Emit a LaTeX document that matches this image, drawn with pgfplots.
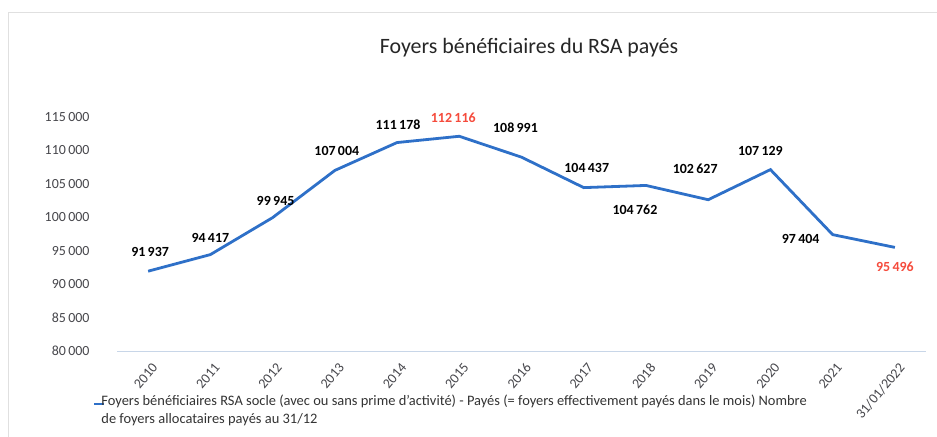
\documentclass[border=0pt]{standalone}
\usepackage{pgfplots}
\pgfplotsset{compat=1.18}
\usepackage{fontspec}
\setmainfont{Carlito}
\definecolor{rsablue}{RGB}{46,112,200}
\definecolor{rsared}{RGB}{245,75,60}
\definecolor{ticktext}{RGB}{70,70,75}
\definecolor{axisline}{RGB}{200,214,232}
\pgfplotstableread{
x y
0 91937
1 94417
2 99945
3 107004
4 111178
5 112116
6 108991
7 104437
8 104762
9 102627
10 107129
11 97404
12 95496
}\rsadata
\pgfplotstableread{
x y dx dy
0 91937 2 19
1 94417 0 17
2 99945 3 17
3 107004 2 19
4 111178 1 18
6 108991 -6 29
7 104437 3 20
8 104762 -11 -24
9 102627 -13 31
10 107129 -10 19
11 97404 -32 -4
}\blacklabels
\pgfplotstableread{
x y dx dy
5 112116 -6 18
12 95496 0 -19
}\redlabels
\begin{document}
\begin{tikzpicture}[x=1bp,y=1bp]
\path[use as bounding box] (0,0) rectangle (937,437);
\draw[black!12, line width=0.8bp] (8,0) -- (8,425) -- (937,425);
\node[font=\fontsize{22}{24}\selectfont, text=black!85] at (529,389) {Foyers bénéficiaires du RSA payés};
\begin{axis}[
  at={(117bp,86bp)}, anchor=south west,
  scale only axis, width=809bp, height=234bp,
  xmin=-0.5, xmax=12.5, ymin=80000, ymax=115000,
  xtick={0,...,12},
  xticklabels={2010,2011,2012,2013,2014,2015,2016,2017,2018,2019,2020,2021,31/01/2022},
  ytick={80000,85000,...,115000},
  scaled y ticks=false,
  axis x line*=bottom, axis y line*=left,
  y axis line style={draw=none},
  x axis line style={draw=axisline, line width=0.9bp},
  tick style={draw=none},
  /pgf/number format/.cd, fixed, precision=0, 1000 sep={\,}, assume math mode=true,
  /pgfplots/.cd,
  yticklabel style={font=\fontsize{14}{16}\selectfont, text=ticktext, anchor=east, xshift=-24bp},
  xticklabel style={font=\fontsize{14}{16}\selectfont, text=ticktext, rotate=50, anchor=north east, xshift=-3bp, yshift=-6bp},
  legend style={at={(-0.03,-0.165)}, anchor=north west, draw=none, fill=none,
    font=\fontsize{14.5}{19}\selectfont, text=black!80, inner sep=0pt, row sep=0pt},
  legend cell align=left,
  legend image code/.code={\draw[#1, line width=2.5bp] (-2bp,0bp) -- (8bp,0bp);},
  clip=false,
]
\addplot[rsablue, line width=2.8bp, mark=none] table[x=x,y=y]{\rsadata};
\addlegendentry{\hspace*{-6bp}\begin{tabular}[c]{@{}l@{}}Foyers bénéficiaires RSA socle (avec ou sans prime d'activité) - Payés (= foyers effectivement payés dans le mois) Nombre\\de foyers allocataires payés au 31/12\end{tabular}}
\addplot[draw=none, mark=none, forget plot,
  point meta=explicit symbolic,
  visualization depends on={\thisrow{dx}\as\dx},
  visualization depends on={\thisrow{dy}\as\dy},
  nodes near coords={\pgfmathprintnumber[fixed,precision=0,1000 sep={\,},assume math mode=true]{\pgfplotspointmeta}},
  every node near coord/.append style={anchor=center, xshift=\dx bp, yshift=\dy bp,
    font=\fontsize{14}{16}\selectfont\bfseries, text=black}]
  table[x=x,y=y,meta=y]{\blacklabels};
\addplot[draw=none, mark=none, forget plot,
  point meta=explicit symbolic,
  visualization depends on={\thisrow{dx}\as\dx},
  visualization depends on={\thisrow{dy}\as\dy},
  nodes near coords={\pgfmathprintnumber[fixed,precision=0,1000 sep={\,},assume math mode=true]{\pgfplotspointmeta}},
  every node near coord/.append style={anchor=center, xshift=\dx bp, yshift=\dy bp,
    font=\fontsize{14}{16}\selectfont\bfseries, text=rsared}]
  table[x=x,y=y,meta=y]{\redlabels};
\end{axis}
\end{tikzpicture}
\end{document}
